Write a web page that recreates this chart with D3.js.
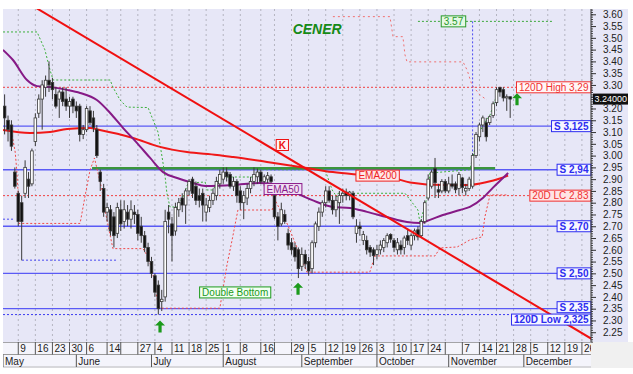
<!DOCTYPE html>
<html>
<head>
<meta charset="utf-8">
<script src="https://cdn.jsdelivr.net/npm/d3@7"></script>
<style>
  body { margin: 0; background: #fff; }
  svg { display: block; font-family: Arial, "Liberation Sans", sans-serif; }
</style>
</head>
<body>
<div id="chart"></div>
<script>
// day index 0 = Mon 2 May 2011, one slot per weekday
var firstDay = 1
var open  = [3.21,3.15,3.13,2.93,2.84,2.80,2.84,2.90,2.88,3.06,3.18,3.24,3.29,3.32,3.31,3.26,3.24,3.27,3.24,3.21,3.24,3.21,3.21,3.09,3.11,3.19,3.16,3.11,2.93,2.86,
             2.76,2.77,2.74,2.67,2.77,2.72,2.76,2.73,2.76,2.75,2.70,2.66,2.61,2.55,2.49,2.45,2.38,2.40,2.76,2.71,2.68,2.77,2.82,2.79,2.85,2.90,2.87,2.83,2.84,2.76,
             2.78,2.81,2.83,2.88,2.90,2.93,2.92,2.87,2.89,2.85,2.80,2.82,2.86,2.89,2.91,2.93,2.89,2.90,2.91,2.83,2.74,2.71,2.75,2.67,2.63,2.61,2.60,2.53,2.58,2.55,
             2.52,2.63,2.70,2.76,2.80,2.85,2.81,2.77,2.80,2.83,2.845,2.83,2.84,2.67,2.70,2.64,2.64,2.61,2.60,2.58,2.60,2.61,2.63,2.665,2.64,2.60,2.62,2.61,2.66,2.62,
             2.66,2.685,2.66,2.72,2.82,2.87,2.945,2.855,2.85,2.89,2.85,2.88,2.88,2.86,2.905,2.85,2.86,2.87,3.00,3.08,3.13,3.14,3.14,3.17,3.225,3.29,3.28,3.245,3.25]
var high  = [3.26,3.17,3.15,2.95,2.85,2.83,2.98,2.93,3.03,3.18,3.26,3.32,3.34,3.40,3.33,3.29,3.28,3.29,3.29,3.25,3.25,3.23,3.22,3.13,3.21,3.21,3.19,3.13,2.94,2.88,
             2.80,2.79,2.76,2.80,2.81,2.81,2.79,2.81,2.79,2.77,2.74,2.68,2.63,2.57,2.50,2.47,2.43,2.77,2.79,2.74,2.80,2.82,2.84,2.86,2.90,2.91,2.89,2.86,2.86,2.82,
             2.83,2.86,2.91,2.94,2.95,2.95,2.93,2.91,2.90,2.87,2.85,2.88,2.91,2.95,2.945,2.94,2.92,2.93,2.92,2.84,2.76,2.80,2.77,2.69,2.65,2.63,2.61,2.61,2.60,2.57,
             2.64,2.72,2.78,2.81,2.87,2.87,2.83,2.83,2.85,2.86,2.86,2.85,2.85,2.73,2.72,2.68,2.66,2.62,2.61,2.62,2.64,2.65,2.67,2.67,2.65,2.65,2.64,2.66,2.69,2.67,
             2.69,2.70,2.73,2.81,2.92,2.94,2.99,2.88,2.90,2.90,2.91,2.92,2.89,2.93,2.91,2.88,2.91,3.01,3.10,3.14,3.17,3.16,3.17,3.23,3.29,3.29,3.29,3.26,3.25]
var low   = [3.09,3.06,3.02,2.86,2.70,2.555,2.82,2.82,2.87,3.04,3.16,3.11,3.25,3.27,3.24,3.20,3.16,3.21,3.19,3.16,3.18,3.16,3.06,3.07,3.10,3.13,3.10,2.99,2.85,2.74,
             2.72,2.66,2.61,2.65,2.68,2.69,2.70,2.69,2.71,2.64,2.63,2.59,2.53,2.48,2.40,2.325,2.34,2.38,2.67,2.55,2.66,2.74,2.76,2.71,2.83,2.82,2.79,2.78,2.72,2.72,
             2.76,2.79,2.81,2.86,2.88,2.89,2.86,2.85,2.80,2.77,2.73,2.79,2.84,2.87,2.88,2.88,2.87,2.88,2.87,2.73,2.64,2.70,2.71,2.60,2.58,2.55,2.48,2.51,2.52,2.49,
             2.50,2.61,2.68,2.74,2.78,2.80,2.75,2.74,2.71,2.80,2.81,2.81,2.73,2.63,2.66,2.62,2.58,2.57,2.535,2.56,2.58,2.59,2.61,2.63,2.59,2.58,2.58,2.58,2.62,2.60,
             2.64,2.64,2.65,2.71,2.81,2.86,2.82,2.82,2.84,2.84,2.84,2.86,2.84,2.83,2.84,2.83,2.85,2.86,2.99,3.06,3.10,3.06,3.13,3.16,3.21,3.25,3.23,3.19,3.16]
var close = [3.16,3.11,3.04,2.87,2.72,2.72,2.95,2.87,3.02,3.16,3.24,3.30,3.32,3.30,3.28,3.21,3.27,3.23,3.21,3.23,3.21,3.19,3.09,3.11,3.20,3.14,3.12,3.00,2.89,2.76,
             2.78,2.68,2.66,2.78,2.71,2.77,2.73,2.77,2.75,2.67,2.66,2.61,2.55,2.50,2.42,2.35,2.39,2.72,2.73,2.66,2.78,2.80,2.79,2.85,2.89,2.84,2.81,2.81,2.79,2.79,
             2.81,2.84,2.89,2.92,2.93,2.91,2.87,2.89,2.83,2.80,2.83,2.86,2.89,2.92,2.93,2.89,2.91,2.915,2.89,2.74,2.70,2.77,2.72,2.62,2.60,2.57,2.52,2.58,2.54,2.51,
             2.63,2.71,2.76,2.80,2.85,2.81,2.77,2.81,2.83,2.84,2.83,2.845,2.74,2.70,2.69,2.665,2.60,2.59,2.575,2.60,2.62,2.64,2.66,2.645,2.61,2.63,2.60,2.65,2.64,2.66,
             2.68,2.655,2.72,2.80,2.90,2.93,2.885,2.845,2.89,2.85,2.88,2.87,2.855,2.92,2.865,2.86,2.90,3.00,3.09,3.13,3.16,3.08,3.165,3.22,3.28,3.27,3.245,3.25,3.24]
var lastPrice = 3.24

// moving averages: [day, value]
var ema200 = [[0.53,3.109],[8.4,3.096],[14.3,3.100],[19.3,3.113],[26,3.117],[28.9,3.109],[38.6,3.075],[46.5,3.037],[54.4,3.015],[63.2,3.003],[67.9,2.994],
              [77.8,2.973],[87.5,2.952],[97.1,2.930],[105,2.918],[114.7,2.905],[119.7,2.886],[129.3,2.875],[136.4,2.875],[142.2,2.888],[146,2.903],[148.4,2.915]]
var ema50  = [[0.53,3.449],[3.45,3.406],[7.55,3.321],[10.5,3.295],[14.3,3.291],[19.3,3.279],[23.1,3.266],[28,3.236],[31.9,3.181],[35.7,3.117],[39.8,3.053],
              [43.6,2.990],[47.4,2.930],[51.5,2.905],[56.1,2.884],[59.7,2.871],[67.9,2.875],[75.8,2.884],[81.6,2.875],[87.5,2.833],[92.4,2.803],[97.1,2.782],
              [102.1,2.778],[107.1,2.761],[112.9,2.739],[118.8,2.718],[122.6,2.714],[125.5,2.727],[129.3,2.748],[134.3,2.769],[137.2,2.782],[141,2.820],
              [143.9,2.863],[146.9,2.905],[148.4,2.926]]

// trailing stop lines
var greenStop = [[0.53,3.525],[10.5,3.525],[12.8,3.449],[14.3,3.363],[15.2,3.321],[31.9,3.321],[32.7,3.291],[34.8,3.236],[36.8,3.206],[43,3.204],
                 [44.1,3.164],[45.9,3.100],[47.1,2.994],[48,2.909],[48.5,2.841],[49.4,2.782],[51.5,2.782],[53.2,2.824],[54.7,2.883],[59.7,2.888],
                 [60.2,2.854],[62,2.854],[64.1,2.909],[74.3,2.909],[75.2,2.940],[94.8,2.940],[96.9,2.854],[98.3,2.824],[98.6,2.840],[118.2,2.840],
                 [122,2.769],[122.6,2.713],[124.7,2.824],[125.5,2.926],[137.2,2.940],[138.1,2.995],[139.3,3.066],[141,3.130],[143.1,3.172],[144.6,3.236],[145.4,3.279]]
var redStop  = [[3.2,3.087],[4.1,3.015],[4.6,2.930],[5,2.830],[5.2,2.712],[23.1,2.712],[24.5,2.824],[26,2.938],[27.3,2.990],[29.5,2.854],[30.5,2.760],
                [32.7,2.605],[41.5,2.605],[43,2.570],[44.2,2.514],[45.6,2.394],[46.5,2.352],[64,2.352],[66.1,2.536],[67.6,2.642],[69.3,2.769],[79.3,2.769],
                [80.2,2.811],[83.9,2.705],[87.5,2.578],[89.5,2.505],[107.9,2.505],[109.4,2.574],[127,2.574],[128.5,2.608],[133.5,2.612],[137.2,2.642],
                [140.8,2.655],[141.6,2.740],[143.1,2.833],[148.4,2.833]]
var redHigh  = [[97.1,3.590],[113.8,3.590],[114.7,3.505],[117.6,3.505],[118.2,3.428],[118.8,3.398],[135.2,3.398],[136.4,3.363],[137.8,3.300],[140.2,3.257],[142.2,3.236]]

// support / level lines
var supports = [3.125, 2.94, 2.70, 2.50, 2.35]
var supportLbl = ["S 3,125", "S 2,94", "S 2,70", "S 2,50", "S 2,35"]
var high120 = 3.29, lc20 = 2.83, low120 = 2.325
var target = 3.57, targetFrom = 122, targetTo = 161.5, targetDay = 138
var breakout = {from: 26.6, to: 144.6, v: 2.946}
var blueDots = [[[0.53,2.73],[4.0,2.73]], [[6.1,2.556],[33.9,2.556]]]
var trend = [[10, 3.629], [175, 2.203]]

// signals and notes
var arrowDays = [46.5, 86.9, 151], arrowVals = [2.300, 2.460, 3.265]
var notes = [
  {t: "K", d: 82.3, v: 3.045, c: "#ee1111", bg: "#fff4f4"},
  {t: "EMA200", d: 110.2, v: 2.915, c: "#ee2222", bg: "#ffe6e6"},
  {t: "EMA50", d: 82.5, v: 2.858, c: "#8a1a8a", bg: "#f0e0f4"},
  {t: "Double Bottom", d: 68.5, v: 2.419, c: "#1c9a1c", bg: "#f2fff2"},
  {t: "3.57", d: 132.4, v: 3.57, c: "#2a9a2a", bg: "#e4f8e4"}
]

// x axis
var weekDay = [5,10,15,20,25,31,35,40,45,50,55,60,65,70,76,80,85,90,95,100,105,110,115,120,125,130,135,140,145,150,155,160,165,170]
var weekLbl = ["9","16","23","30","6","14","","27","4","11","18","25","1","8","16","","29","5","12","19","26","3","10","17","24","","7","14","21","28","5","12","19","26"]
var monthDay = [0.53, 22, 44, 65, 88, 110, 131, 153]
var monthLbl = ["May","June","July","August","September","October","November","December"]

var W = 633, H = 374
var L = 3, T = 9, R = 591, B = 342

var svg = d3.select("#chart").append("svg").attr("width", W).attr("height", H)

var x = d3.scaleLinear().domain([0.53, 172.66]).range([L, R])
var y = d3.scaleLinear().domain([2.2085, 3.6225]).range([B, T])

var defs = svg.append("defs")
defs.append("clipPath").attr("id", "clip")
    .append("rect").attr("x", L).attr("y", T).attr("width", R - L).attr("height", B - T)
defs.append("clipPath").attr("id", "clipx")
    .append("rect").attr("x", L).attr("y", B).attr("width", R - L).attr("height", 30)

// backgrounds
svg.append("rect").attr("x", L).attr("y", T).attr("width", R - L).attr("height", B - T).attr("fill", "#e7e7f7")
svg.append("rect").attr("x", R).attr("y", T).attr("width", 37).attr("height", B - T).attr("fill", "#e7e7f7")
svg.append("rect").attr("x", L).attr("y", B).attr("width", R - L).attr("height", 26).attr("fill", "#f4f4fb")
svg.append("rect").attr("x", R).attr("y", B).attr("width", W - R).attr("height", 26).attr("fill", "#f0f0f0")

var plot = svg.append("g").attr("clip-path", "url(#clip)")

// vertical dotted grid
plot.selectAll(".grid").data(weekDay).enter().append("line")
    .attr("x1", d => x(d)).attr("x2", d => x(d)).attr("y1", T).attr("y2", B)
    .attr("stroke", "#b4b4c0").attr("stroke-dasharray", "2,3").attr("stroke-width", 1)

var line = d3.line().x(d => x(d[0])).y(d => y(d[1]))
var smooth = d3.line().x(d => x(d[0])).y(d => y(d[1])).curve(d3.curveMonotoneX)

function hline(v, color, dash, w, d0, d1) {
    plot.append("line")
        .attr("x1", d0 == null ? L : x(d0)).attr("x2", d1 == null ? R : x(d1))
        .attr("y1", y(v)).attr("y2", y(v))
        .attr("stroke", color).attr("stroke-width", w)
        .attr("stroke-dasharray", dash)
}

// dotted reference levels
hline(high120, "#f04040", "2,2", 1)
hline(lc20, "#f04040", "2,2", 1)
hline(low120, "#3c3cf0", "2,2", 1)
blueDots.forEach(s => plot.append("path").attr("d", line(s)).attr("fill", "none")
    .attr("stroke", "#4a4af0").attr("stroke-dasharray", "2,2"))
hline(target, "#3aa83a", "2,2", 1, targetFrom, targetTo)
plot.append("line").attr("x1", x(targetDay)).attr("x2", x(targetDay))
    .attr("y1", y(target)).attr("y2", y(2.995))
    .attr("stroke", "#4a4af0").attr("stroke-dasharray", "2,2")

// support lines
supports.forEach(v => hline(v, "#5a5af5", null, 1.3))
plot.append("line").attr("x1", x(breakout.from)).attr("x2", x(breakout.to))
    .attr("y1", y(breakout.v)).attr("y2", y(breakout.v))
    .attr("stroke", "#3c963c").attr("stroke-width", 2.5)

// trailing stops
plot.append("path").attr("d", line(greenStop)).attr("fill", "none")
    .attr("stroke", "#3cb03c").attr("stroke-width", 1).attr("stroke-dasharray", "2,2")
plot.append("path").attr("d", line(redStop)).attr("fill", "none")
    .attr("stroke", "#f04a4a").attr("stroke-width", 1).attr("stroke-dasharray", "2,2")
plot.append("path").attr("d", line(redHigh)).attr("fill", "none")
    .attr("stroke", "#f07070").attr("stroke-width", 1).attr("stroke-dasharray", "2,3")

// moving averages
plot.append("path").attr("d", smooth(ema200)).attr("fill", "none").attr("stroke", "#f01818").attr("stroke-width", 2)
plot.append("path").attr("d", smooth(ema50)).attr("fill", "none").attr("stroke", "#861a86").attr("stroke-width", 2)

// candles
var candles = close.map((c, k) => ({d: firstDay + k, o: open[k], h: high[k], l: low[k], c: c}))
var cw = 2.6
var cg = plot.selectAll(".candle").data(candles).enter().append("g")
cg.append("line")
    .attr("x1", d => x(d.d)).attr("x2", d => x(d.d))
    .attr("y1", d => y(d.h)).attr("y2", d => y(d.l))
    .attr("stroke", "#3a3a3a").attr("stroke-width", 1)
cg.append("rect")
    .attr("x", d => x(d.d) - cw / 2).attr("width", cw)
    .attr("y", d => y(Math.max(d.o, d.c)))
    .attr("height", d => Math.max(1, Math.abs(y(d.o) - y(d.c))))
    .attr("fill", d => d.c >= d.o ? "#ffffff" : "#111111")
    .attr("stroke", "#3a3a3a").attr("stroke-width", 0.8)

// trend line
plot.append("path").attr("d", line(trend)).attr("stroke", "#f01010").attr("stroke-width", 2).attr("fill", "none")

// green arrows
var arrow = "M0,0 L5,5 L1.6,5 L1.6,12 L-1.6,12 L-1.6,5 L-5,5 Z"
plot.selectAll(".arrow").data(arrowDays).enter().append("path")
    .attr("d", arrow)
    .attr("transform", (d, k) => "translate(" + x(d) + "," + y(arrowVals[k]) + ")")
    .attr("fill", "#1c9a1c")

// title
plot.append("text").attr("x", x(92.5)).attr("y", y(3.538)).attr("dy", "0.35em")
    .attr("text-anchor", "middle").attr("font-size", 14).attr("font-weight", "bold")
    .attr("font-style", "italic").attr("fill", "#168a16").text("CENER")

function box(g, txt, cx, cy, color, bg, anchor, bold) {
    var t = g.append("text").attr("font-size", 10).attr("font-weight", bold ? "bold" : "normal")
        .attr("fill", color).attr("dy", "0.35em").text(txt)
    var w = t.node().getComputedTextLength() + 5
    var left = anchor === "end" ? cx - w : cx - w / 2
    t.attr("x", left + 2.5).attr("y", cy)
    g.insert("rect", function () { return t.node() })
        .attr("x", left).attr("y", cy - 5.5).attr("width", w).attr("height", 11)
        .attr("fill", bg).attr("stroke", color).attr("stroke-width", 1)
}

notes.forEach(n => box(plot.append("g"), n.t, x(n.d), y(n.v), n.c, n.bg, "middle", n.t === "K"))

// right-side level labels
var lab = svg.append("g")
box(lab.append("g"), "120D High 3,29", R, y(high120), "#f03030", "#fff6f6", "end", false)
supports.forEach((v, k) => box(lab.append("g"), supportLbl[k], R, y(v) - (v === 2.35 ? 1.5 : 0), "#2c2cf0", "#f6f6ff", "end", true))
box(lab.append("g"), "20D LC 2,83", R, y(lc20), "#f03030", "#ffe4e4", "end", false)
box(lab.append("g"), "120D Low 2,325", R, y(low120) + 5, "#2c2cf0", "#f6f6ff", "end", true)

// y axis (the 3.25 label sits under the last-price tag)
var major = d3.range(2.25, 3.6001, 0.05)
var minor = d3.range(2.21, 3.6201, 0.01)
svg.append("g").attr("transform", "translate(" + R + ",0)")
    .call(d3.axisRight(y).tickValues(minor).tickSize(2).tickFormat(""))
    .call(g => g.select(".domain").remove())
    .selectAll("line").attr("stroke", "#444")
var ya = svg.append("g").attr("transform", "translate(" + R + ",0)")
    .call(d3.axisRight(y).tickValues(major).tickSize(5).tickPadding(7)
        .tickFormat(d => Math.abs(d - lastPrice) < 0.03 ? "" : d3.format(".2f")(d)))
ya.select(".domain").attr("stroke", "#333").attr("d", "M0," + T + "V" + B)
ya.selectAll("line").attr("stroke", "#333")
ya.selectAll("text").attr("font-size", 10).attr("fill", "#222").attr("font-family", "Arial, 'Liberation Sans', sans-serif")

// last price tag
var lp = svg.append("g")
lp.append("rect").attr("x", R + 2).attr("y", y(lastPrice) - 5.5).attr("width", 35).attr("height", 11).attr("fill", "#111")
lp.append("text").attr("x", R + 3.5).attr("y", y(lastPrice)).attr("dy", "0.35em")
    .attr("font-size", 9).attr("fill", "#fff").text(d3.format(".5f")(lastPrice))

// x axis, two rows
var xa = svg.append("g").attr("clip-path", "url(#clipx)")
xa.append("line").attr("x1", L).attr("x2", R).attr("y1", B).attr("y2", B).attr("stroke", "#555")
xa.append("line").attr("x1", L).attr("x2", R).attr("y1", B + 12.5).attr("y2", B + 12.5).attr("stroke", "#999")
xa.append("line").attr("x1", L).attr("x2", R).attr("y1", B + 25).attr("y2", B + 25).attr("stroke", "#bbb")
xa.selectAll(".wk").data(weekDay).enter().append("line")
    .attr("x1", d => x(d)).attr("x2", d => x(d)).attr("y1", B).attr("y2", B + 12.5)
    .attr("stroke", "#555")
xa.selectAll(".wkl").data(weekDay).enter().append("text")
    .attr("x", d => x(d) + 2).attr("y", B + 10)
    .attr("font-size", 10).attr("fill", "#222")
    .text((d, k) => weekLbl[k])
xa.selectAll(".mo").data(monthDay).enter().append("line")
    .attr("x1", d => Math.max(L, x(d))).attr("x2", d => Math.max(L, x(d)))
    .attr("y1", B + 12.5).attr("y2", B + 25).attr("stroke", "#555")
xa.selectAll(".mol").data(monthDay).enter().append("text")
    .attr("x", d => Math.max(L, x(d)) + 2).attr("y", B + 22.5)
    .attr("font-size", 10).attr("fill", "#222")
    .text((d, k) => monthLbl[k])
</script>
</body>
</html>
